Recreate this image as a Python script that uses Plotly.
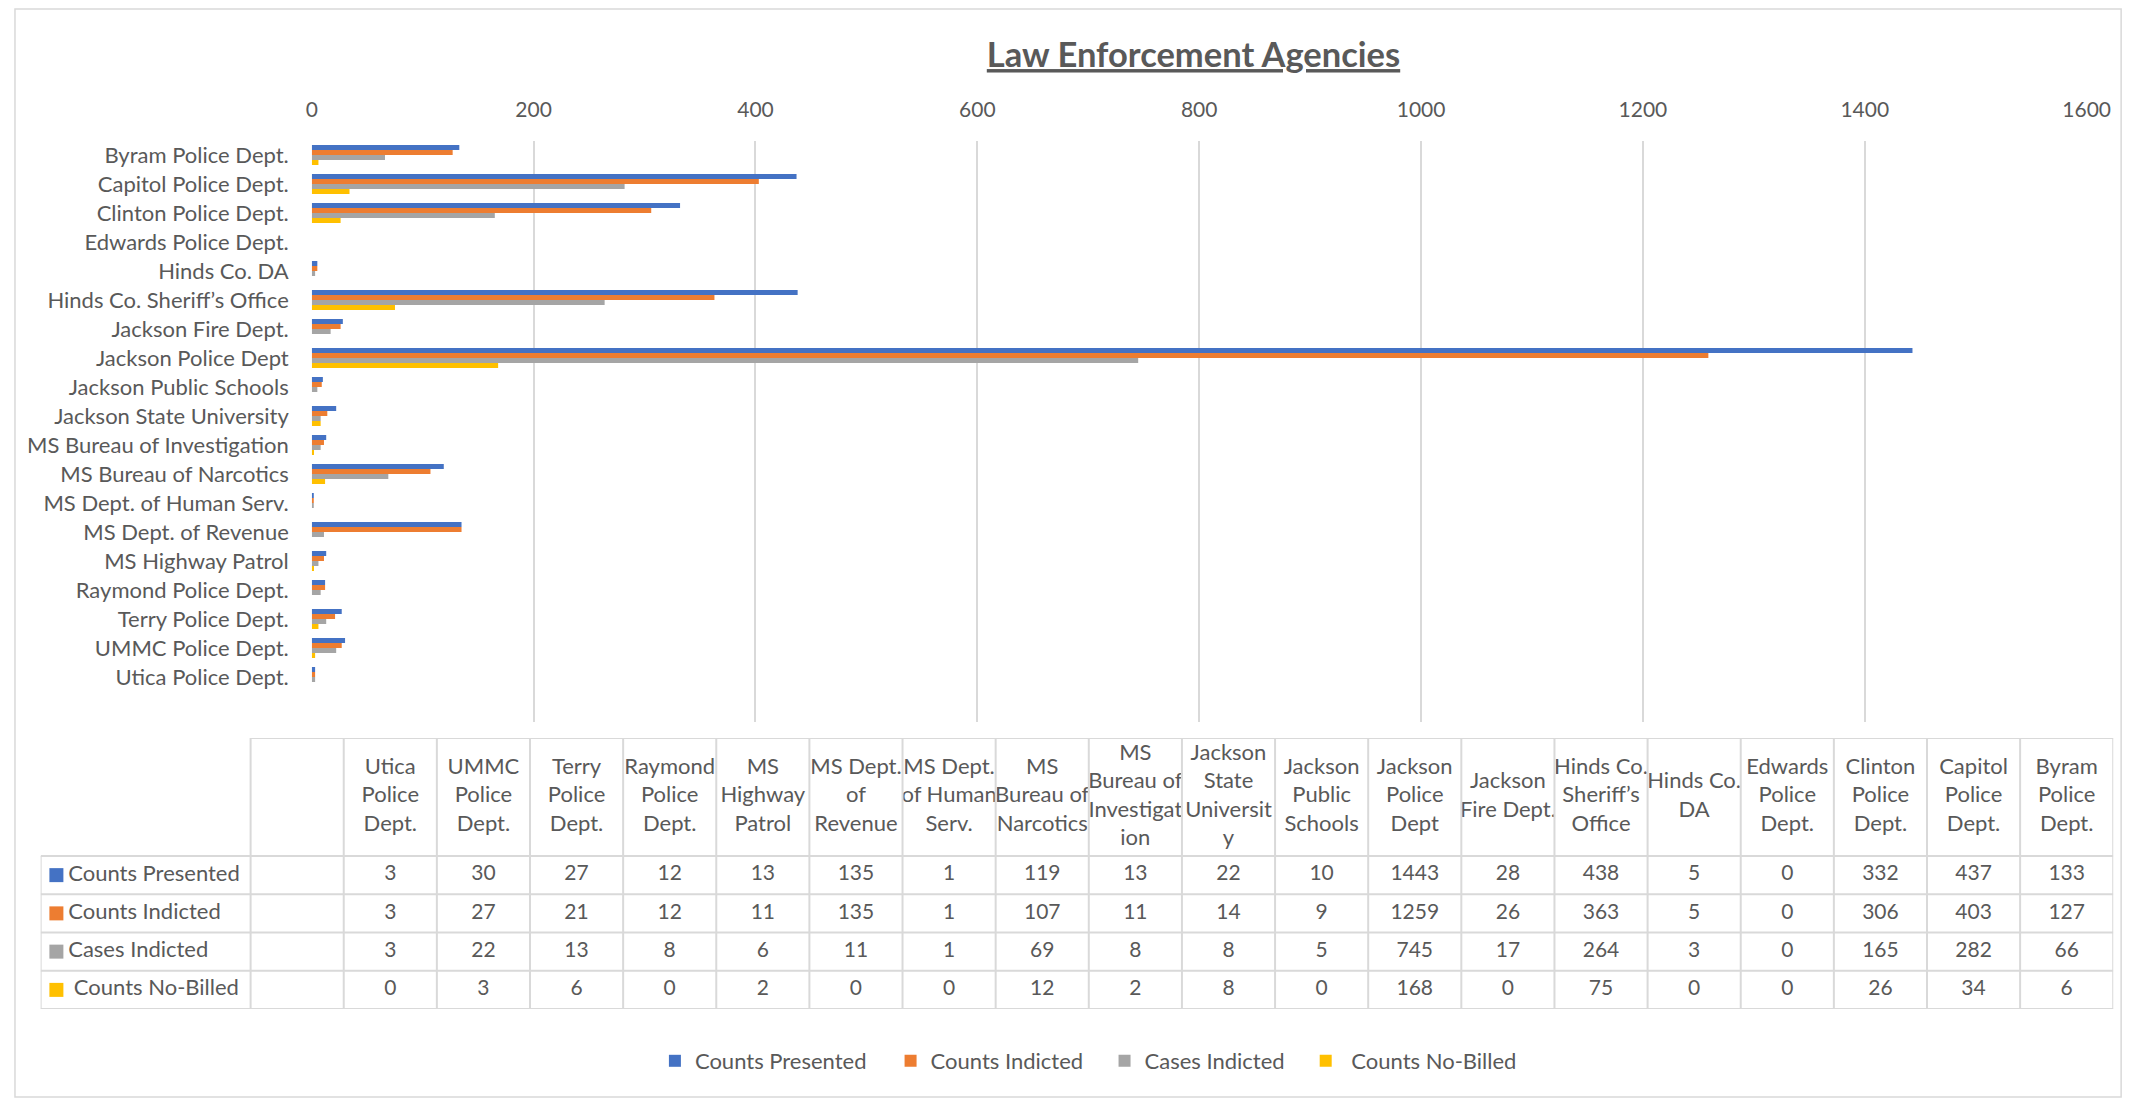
import plotly.graph_objects as go

# ---------------- data ----------------
agencies = [
    "Utica Police Dept.", "UMMC Police Dept.", "Terry Police Dept.", "Raymond Police Dept.",
    "MS Highway Patrol", "MS Dept. of Revenue", "MS Dept. of Human Serv.", "MS Bureau of Narcotics",
    "MS Bureau of Investigation", "Jackson State University", "Jackson Public Schools",
    "Jackson Police Dept", "Jackson Fire Dept.", "Hinds Co. Sheriff\u2019s Office", "Hinds Co. DA",
    "Edwards Police Dept.", "Clinton Police Dept.", "Capitol Police Dept.", "Byram Police Dept.",
]
header_labels = [
    "Utica<br>Police<br>Dept.", "UMMC<br>Police<br>Dept.", "Terry<br>Police<br>Dept.",
    "Raymond<br>Police<br>Dept.", "MS<br>Highway<br>Patrol", "MS Dept.<br>of<br>Revenue",
    "MS Dept.<br>of Human<br>Serv.", "MS<br>Bureau of<br>Narcotics", "MS<br>Bureau of<br>Investigat<br>ion",
    "Jackson<br>State<br>Universit<br>y", "Jackson<br>Public<br>Schools", "Jackson<br>Police<br>Dept",
    "Jackson<br>Fire Dept.", "Hinds Co.<br>Sheriff\u2019s<br>Office", "Hinds Co.<br>DA",
    "Edwards<br>Police<br>Dept.", "Clinton<br>Police<br>Dept.", "Capitol<br>Police<br>Dept.",
    "Byram<br>Police<br>Dept.",
]
series_names = ["Counts Presented", "Counts Indicted", "Cases Indicted", "\u00a0Counts No-Billed"]
counts_presented = [3, 30, 27, 12, 13, 135, 1, 119, 13, 22, 10, 1443, 28, 438, 5, 0, 332, 437, 133]
counts_indicted = [3, 27, 21, 12, 11, 135, 1, 107, 11, 14, 9, 1259, 26, 363, 5, 0, 306, 403, 127]
cases_indicted = [3, 22, 13, 8, 6, 11, 1, 69, 8, 8, 5, 745, 17, 264, 3, 0, 165, 282, 66]
counts_no_billed = [0, 3, 6, 0, 2, 0, 0, 12, 2, 8, 0, 168, 0, 75, 0, 0, 26, 34, 6]
x_ticks = [0, 200, 400, 600, 800, 1000, 1200, 1400, 1600]
title_text = "Law Enforcement Agencies"

series_values = [counts_presented, counts_indicted, cases_indicted, counts_no_billed]
colors = ["#4472C4", "#ED7D31", "#A5A5A5", "#FFC000"]

# ---------------- layout helpers ----------------
W, H = 2147, 1099
OX, OY = 8, 8  # page body margin compensation

def fx(px):
    return (px - OX) / W

def fy(py):
    return 1 - (py - OY) / H

FONT = "Lato, 'Open Sans', sans-serif"
TXT = "#595959"
GRID = "#D9D9D9"
FS_TXT = 22   # words
FS_NUM = 21   # numbers

fig = go.Figure()

legend_ids = ["legend", "legend2", "legend3", "legend4"]
for name, vals, col, lg in zip(series_names, series_values, colors, legend_ids):
    fig.add_trace(go.Bar(
        y=agencies, x=vals, orientation="h", name=name,
        marker=dict(color=col, line=dict(width=0)),
        xaxis="x", yaxis="y", legend=lg,
    ))

# ---------------- data table (own axes) ----------------
n = len(agencies)
header_units = 118 / 38.25
label_units = (248 - 35) / 94.47
header_center = -0.5 - header_units / 2
col_centers = [i + 1.5 for i in range(n)]
row_pos = list(range(len(series_names)))

fig.add_trace(go.Scatter(
    x=col_centers, y=[header_center] * n, text=header_labels, mode="text",
    textposition="middle center", textfont=dict(family=FONT, size=FS_TXT, color=TXT),
    xaxis="x2", yaxis="y2", showlegend=False, hoverinfo="skip", cliponaxis=False,
))
for r, vals in zip(row_pos, series_values):
    fig.add_trace(go.Scatter(
        x=col_centers, y=[r] * n, text=[str(v) for v in vals], mode="text",
        textposition="middle center", textfont=dict(family=FONT, size=FS_NUM, color=TXT),
        xaxis="x2", yaxis="y2", showlegend=False, hoverinfo="skip", cliponaxis=False,
    ))
key_x = -label_units + (51 - 35) / 94.47
label_x = -label_units + (63 - 35) / 94.47
fig.add_trace(go.Scatter(
    x=[key_x] * len(series_names), y=row_pos, mode="markers",
    marker=dict(symbol="square", size=14, color=colors, line=dict(width=0)),
    xaxis="x2", yaxis="y2", showlegend=False, hoverinfo="skip", cliponaxis=False,
))
fig.add_trace(go.Scatter(
    x=[label_x] * len(series_names), y=row_pos, text=series_names, mode="text",
    textposition="middle right", textfont=dict(family=FONT, size=FS_TXT, color=TXT),
    xaxis="x2", yaxis="y2", showlegend=False, hoverinfo="skip", cliponaxis=False,
))

shapes = []
line_style = dict(color=GRID, width=2)
header_top = -0.5 - header_units
right_edge = n + 1
row_edges = [r - 0.5 for r in range(len(series_names) + 1)]
shapes.append(dict(type="line", xref="x2", yref="y2", x0=0, x1=right_edge,
                   y0=header_top, y1=header_top, line=line_style))
for ye in row_edges:
    shapes.append(dict(type="line", xref="x2", yref="y2", x0=-label_units, x1=right_edge,
                       y0=ye, y1=ye, line=line_style))
shapes.append(dict(type="line", xref="x2", yref="y2", x0=-label_units, x1=-label_units,
                   y0=row_edges[0], y1=row_edges[-1], line=line_style))
for xe in range(0, right_edge + 1):
    shapes.append(dict(type="line", xref="x2", yref="y2", x0=xe, x1=xe,
                       y0=header_top, y1=row_edges[-1], line=line_style))
# outer chart border
shapes.append(dict(type="rect", xref="paper", yref="paper", x0=fx(9), x1=fx(2145),
                   y0=fy(1097), y1=fy(9), line=dict(color=GRID, width=1.5)))

legend_common = dict(orientation="h", yanchor="middle", y=fy(1061), xanchor="left",
                     font=dict(family=FONT, size=FS_TXT, color=TXT),
                     bgcolor="rgba(0,0,0,0)", borderwidth=0)
legend_left = [658, 897, 1114, 1318]

fig.update_layout(
    width=W, height=H,
    margin=dict(l=0, r=0, t=0, b=0),
    paper_bgcolor="white", plot_bgcolor="white",
    font=dict(family=FONT, size=FS_TXT, color=TXT),
    title=dict(text="<b><u>" + title_text + "</u></b>", x=fx(1193.5), xanchor="center",
               y=fy(55), yanchor="middle", yref="container",
               font=dict(family=FONT, size=34.5, color=TXT)),
    barmode="group", bargap=0.31, bargroupgap=0,
    xaxis=dict(domain=[fx(310), fx(2110)], range=[0, 1600], side="top", anchor="y",
               tickvals=x_ticks, showgrid=True, gridcolor=GRID, gridwidth=1.5,
               zeroline=False, showline=False, ticks="", ticklabelstandoff=18,
               tickfont=dict(family=FONT, size=FS_NUM, color=TXT)),
    yaxis=dict(domain=[fy(722), fy(140.5)], type="category", categoryorder="array",
               categoryarray=agencies[::-1], range=[n + 0.55, -0.5], anchor="x",
               showgrid=False, zeroline=False, showline=False, ticks="",
               ticklabelstandoff=22, tickfont=dict(family=FONT, size=FS_TXT, color=TXT)),
    xaxis2=dict(domain=[fx(35), fx(2137)], range=[-label_units, right_edge], anchor="y2",
                visible=False, fixedrange=True),
    yaxis2=dict(domain=[fy(1009), fy(738)], range=[row_edges[-1], header_top], anchor="x2",
                visible=False, fixedrange=True),
    shapes=shapes,
    showlegend=True,
    legend=dict(x=fx(legend_left[0]), **legend_common),
    legend2=dict(x=fx(legend_left[1]), **legend_common),
    legend3=dict(x=fx(legend_left[2]), **legend_common),
    legend4=dict(x=fx(legend_left[3]), **legend_common),
)

fig.write_html("out.html")
